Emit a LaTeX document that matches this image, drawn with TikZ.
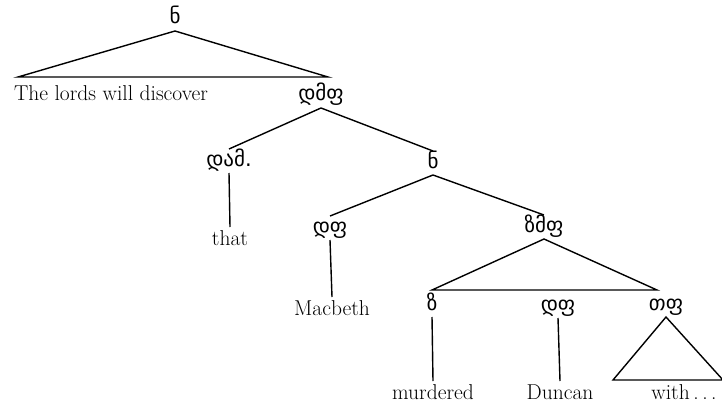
\documentclass[tikz,border=0pt]{standalone}
\usepackage{fontspec}
\newfontfamily\geo{DejaVu Sans}
\begin{document}
\begin{tikzpicture}[x=1pt,y=-1pt,line width=1.4pt,
  lab/.style={font=\geo\fontsize{21}{24}\selectfont,inner sep=0pt,text height=14pt,text depth=4pt,outer sep=3pt},
  word/.style={font=\fontsize{21.5}{24}\selectfont,inner sep=0pt,text height=14pt,text depth=4pt,outer sep=4pt}]
\useasboundingbox (0,0) rectangle (722,409);
% top
\node[lab] (s0) at (175,19) {ნ};
\coordinate (l1) at (18,77);
\coordinate (r1) at (328,77);
\draw (s0.south) -- (l1) -- (r1) -- cycle;
\node[word] (w1) at (111,96) {The lords will discover};
\node[lab] (cp) at (321,96) {დმფ};
% CP
\node[lab] (c) at (229,161) {დამ.};
\node[lab] (s2) at (433,163) {ნ};
\draw (cp.south) -- (c.north);
\draw (cp.south) -- (s2.north);
\node[word] (that) at (230,240) {that};
\draw (c.south) -- (that.north);
% S
\node[lab] (dp1) at (330,228) {დფ};
\node[lab] (vp) at (544,227) {ზმფ};
\draw (s2.south) -- (dp1.north);
\draw (s2.south) -- (vp.north);
\node[word] (mac) at (332,310) {Macbeth};
\draw (dp1.south) -- (mac.north);
% VP
\coordinate (l2) at (432,290);
\coordinate (r2) at (657,290);
\draw (vp.south) -- (l2) -- (r2) -- cycle;
\node[lab] (v) at (432,305) {ზ};
\node[lab] (dp2) at (558,306) {დფ};
\node[lab] (pp) at (666,305) {თფ};
\node[word] (mur) at (433,394) {murdered};
\node[word] (dun) at (560,394) {Duncan};
\node[word] (with) at (684,394) {with\,.\,.\,.};
\draw (v.south) -- (mur.north);
\draw (dp2.south) -- (dun.north);
\coordinate (l3) at (613,380);
\coordinate (r3) at (723,380);
\draw (pp.south) -- (l3) -- (r3) -- cycle;
\end{tikzpicture}
\end{document}
